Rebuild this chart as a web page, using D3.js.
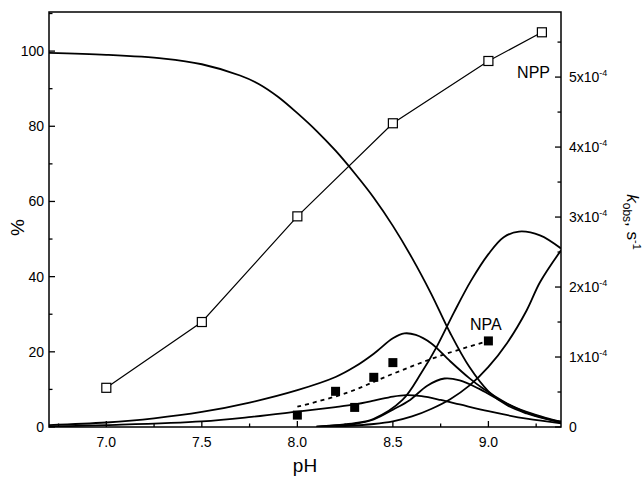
<!DOCTYPE html>
<html>
<head>
<meta charset="utf-8">
<script src="https://cdn.jsdelivr.net/npm/d3@7"></script>
<style>
  body { margin: 0; background: #fff; }
  text { font-family: Arial, "Liberation Sans", sans-serif; fill: #000; }
</style>
</head>
<body>
<div id="plot"></div>
<script>
// species distribution curves (% vs pH)
var curveA_pH = [6.7, 7.0, 7.3, 7.5, 7.7, 7.8, 7.9, 8.0, 8.1, 8.2, 8.3, 8.4, 8.5, 8.6, 8.7, 8.8, 8.9, 9.0, 9.1, 9.2, 9.29, 9.38];
var curveA_pc = [99.5, 99, 98, 96.5, 93.5, 91.2, 87.8, 83.5, 78.8, 73.5, 67.5, 61, 53.5, 45, 35.5, 25, 16, 9.5, 5.7, 3.6, 2.3, 1.4];

var curveB_pH = [6.7, 7.0, 7.25, 7.5, 7.75, 8.0, 8.2, 8.3, 8.4, 8.5, 8.56, 8.62, 8.7, 8.8, 8.9, 8.97, 9.1, 9.2, 9.3, 9.38];
var curveB_pc = [0.5, 1.2, 2.3, 4.0, 6.5, 9.8, 13.3, 16.0, 19.5, 23.6, 24.9, 24.5, 22.3, 17.5, 13.0, 10.3, 6.2, 4.0, 2.4, 1.4];

var curveC_pH = [6.7, 7.0, 7.5, 7.76, 8.0, 8.2, 8.3, 8.4, 8.5, 8.57, 8.65, 8.75, 8.85, 9.0, 9.2, 9.38];
var curveC_pc = [0.1, 0.5, 1.5, 2.7, 4.1, 5.3, 6.0, 7.0, 8.1, 8.5, 8.2, 7.2, 6.0, 4.2, 2.2, 1.0];

var curveD_pH = [8.1, 8.3, 8.4, 8.5, 8.59, 8.68, 8.77, 8.85, 8.95, 9.05, 9.2, 9.38];
var curveD_pc = [0.1, 0.8, 2.0, 4.6, 7.2, 11.0, 12.9, 12.4, 10.2, 7.4, 3.8, 1.2];

var curveE_pH = [8.1, 8.3, 8.4, 8.55, 8.65, 8.73, 8.82, 8.91, 9.0, 9.08, 9.16, 9.27, 9.38];
var curveE_pc = [0.1, 1.0, 2.2, 7.2, 14.5, 21.4, 30.5, 39.0, 46.0, 50.5, 52.0, 51.0, 47.5];

var curveF_pH = [8.2, 8.4, 8.5, 8.6, 8.7, 8.8, 8.9, 9.0, 9.1, 9.2, 9.27, 9.38];
var curveF_pc = [0.1, 0.8, 1.5, 2.8, 4.8, 7.4, 11.0, 16.0, 22.5, 31.0, 38.5, 47.0];

// rate constants, units of 1e-4 s-1
var npp_pH = [7.0, 7.5, 8.0, 8.5, 9.0, 9.28];
var npp_k = [0.56, 1.50, 3.01, 4.34, 5.23, 5.64];

var npa_pH = [8.0, 8.2, 8.3, 8.4, 8.5, 9.0];
var npa_k = [0.17, 0.51, 0.28, 0.71, 0.92, 1.23];

var npaFit_pH = [8.0, 8.25, 8.5, 8.75, 9.0];
var npaFit_k = [0.29, 0.48, 0.76, 1.02, 1.23];

var xTicks = [7.0, 7.5, 8.0, 8.5, 9.0];
var leftTicks = [0, 20, 40, 60, 80, 100];
var rightTicks = [0, 1, 2, 3, 4, 5];

var W = 644, H = 483;
var pLeft = 49, pRight = 561, pTop = 12, pBottom = 427;

var svg = d3.select("#plot").append("svg")
  .attr("width", W)
  .attr("height", H);

var x = d3.scaleLinear().domain([6.7, 9.38]).range([pLeft, pRight]);
var y = d3.scaleLinear().domain([0, 110.4]).range([pBottom, pTop]);
var yk = d3.scaleLinear().domain([0, 5.93]).range([pBottom, pTop]);

function zip(a, b) {
  return a.map(function (v, i) { return [v, b[i]]; });
}

svg.append("clipPath").attr("id", "clip")
  .append("rect")
  .attr("x", pLeft).attr("y", pTop)
  .attr("width", pRight - pLeft).attr("height", pBottom - pTop);

var plot = svg.append("g").attr("clip-path", "url(#clip)");

var line = d3.line()
  .x(function (d) { return x(d[0]); })
  .y(function (d) { return y(d[1]); })
  .curve(d3.curveCatmullRom.alpha(0.5));

var curves = [
  zip(curveA_pH, curveA_pc),
  zip(curveB_pH, curveB_pc),
  zip(curveC_pH, curveC_pc),
  zip(curveD_pH, curveD_pc),
  zip(curveE_pH, curveE_pc),
  zip(curveF_pH, curveF_pc)
];

plot.selectAll("path.species")
  .data(curves)
  .enter().append("path")
  .attr("class", "species")
  .attr("d", line)
  .attr("fill", "none")
  .attr("stroke", "#000")
  .attr("stroke-width", 1.8);

// NPA fitted (dotted)
var kline = d3.line()
  .x(function (d) { return x(d[0]); })
  .y(function (d) { return yk(d[1]); });

plot.append("path")
  .attr("d", kline.curve(d3.curveCatmullRom.alpha(0.5))(zip(npaFit_pH, npaFit_k)))
  .attr("fill", "none")
  .attr("stroke", "#000")
  .attr("stroke-width", 1.8)
  .attr("stroke-dasharray", "4,4");

// NPP line + open squares
plot.append("path")
  .attr("d", d3.line()
    .x(function (d) { return x(d[0]); })
    .y(function (d) { return yk(d[1]); })(zip(npp_pH, npp_k)))
  .attr("fill", "none")
  .attr("stroke", "#000")
  .attr("stroke-width", 1.2);

var sq = 9;
svg.selectAll("rect.npp")
  .data(zip(npp_pH, npp_k))
  .enter().append("rect")
  .attr("class", "npp")
  .attr("x", function (d) { return x(d[0]) - sq / 2; })
  .attr("y", function (d) { return yk(d[1]) - sq / 2; })
  .attr("width", sq).attr("height", sq)
  .attr("fill", "#fff")
  .attr("stroke", "#000")
  .attr("stroke-width", 1.2);

svg.selectAll("rect.npa")
  .data(zip(npa_pH, npa_k))
  .enter().append("rect")
  .attr("class", "npa")
  .attr("x", function (d) { return x(d[0]) - sq / 2; })
  .attr("y", function (d) { return yk(d[1]) - sq / 2; })
  .attr("width", sq).attr("height", sq)
  .attr("fill", "#000");

// frame
svg.append("rect")
  .attr("x", pLeft).attr("y", pTop)
  .attr("width", pRight - pLeft).attr("height", pBottom - pTop)
  .attr("fill", "none")
  .attr("stroke", "#000")
  .attr("stroke-width", 1.5);

// ticks (inward)
var tickG = svg.append("g").attr("stroke", "#000").attr("stroke-width", 1.3);

d3.range(6.75, 9.38, 0.25).forEach(function (v) {
  var major = Math.abs(v * 2 - Math.round(v * 2)) < 1e-6;
  tickG.append("line")
    .attr("x1", x(v)).attr("x2", x(v))
    .attr("y1", pBottom).attr("y2", pBottom - (major ? 6 : 3.5));
});
d3.range(0, 111, 10).forEach(function (v) {
  var major = v % 20 == 0;
  tickG.append("line")
    .attr("x1", pLeft).attr("x2", pLeft + (major ? 6 : 3.5))
    .attr("y1", y(v)).attr("y2", y(v));
});
d3.range(0, 5.95, 0.5).forEach(function (v) {
  var major = Math.abs(v - Math.round(v)) < 1e-6;
  tickG.append("line")
    .attr("x1", pRight).attr("x2", pRight - (major ? 6 : 3.5))
    .attr("y1", yk(v)).attr("y2", yk(v));
});

// tick labels
svg.selectAll("text.xl")
  .data(xTicks)
  .enter().append("text")
  .attr("x", function (d) { return x(d); })
  .attr("y", pBottom + 20)
  .attr("text-anchor", "middle")
  .style("font-size", "14px")
  .text(function (d) { return d.toFixed(1); });

svg.selectAll("text.yl")
  .data(leftTicks)
  .enter().append("text")
  .attr("x", pLeft - 5)
  .attr("y", function (d) { return y(d) + 5; })
  .attr("text-anchor", "end")
  .style("font-size", "14px")
  .text(function (d) { return d; });

var rl = svg.selectAll("text.rl")
  .data(rightTicks)
  .enter().append("text")
  .attr("x", pRight + 8)
  .attr("y", function (d) { return yk(d) + 5; })
  .style("font-size", "14px");
rl.append("tspan").text(function (d) { return d == 0 ? "0" : d + "x10"; });
rl.filter(function (d) { return d != 0; })
  .append("tspan")
  .attr("dy", -6)
  .style("font-size", "9px")
  .text("-4");

// axis titles
svg.append("text")
  .attr("x", (pLeft + pRight) / 2)
  .attr("y", 472)
  .attr("text-anchor", "middle")
  .style("font-size", "19px")
  .text("pH");

svg.append("text")
  .attr("transform", "translate(24," + ((pTop + pBottom) / 2 + 8) + ") rotate(-90)")
  .attr("text-anchor", "middle")
  .style("font-size", "19px")
  .text("%");

var kt = svg.append("text")
  .attr("transform", "translate(627,222) rotate(90)")
  .attr("text-anchor", "middle")
  .style("font-size", "17px");
kt.append("tspan").style("font-style", "italic").text("k");
kt.append("tspan").attr("dy", 4).style("font-size", "12px").text("obs");
kt.append("tspan").attr("dy", -4).text(", s");
kt.append("tspan").attr("dy", -6).style("font-size", "11px").text("-1");

// series labels
svg.append("text")
  .attr("x", 550).attr("y", 78)
  .attr("text-anchor", "end")
  .style("font-size", "16px")
  .text("NPP");

svg.append("text")
  .attr("x", 470).attr("y", 330)
  .style("font-size", "16px")
  .text("NPA");
</script>
</body>
</html>
